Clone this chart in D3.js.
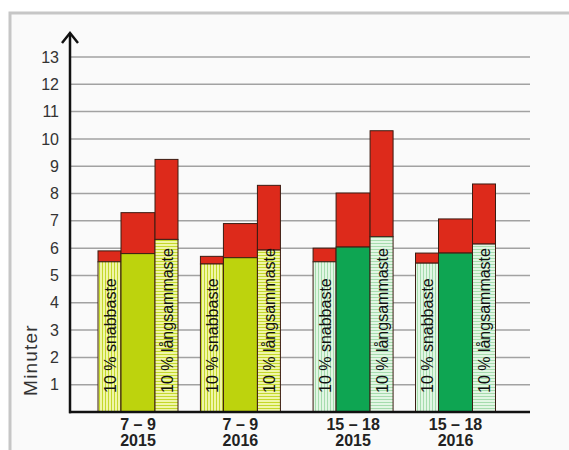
<!DOCTYPE html>
<html>
<head>
<meta charset="utf-8">
<script src="https://cdn.jsdelivr.net/npm/d3@7"></script>
<style>
  html, body { margin: 0; padding: 0; background: #ffffff; }
  svg { display: block; font-family: Arial, "Liberation Sans", sans-serif; }
</style>
</head>
<body>
<svg id="chart" width="569" height="450"></svg>
<script>
// Age group / year per column group
const periods = ["7 – 9", "7 – 9", "15 – 18", "15 – 18"];
const years = ["2015", "2016", "2015", "2016"];
const ageGroup = ["young", "young", "teen", "teen"];

// Minutes: lower (coloured) part and total height (red top) of each bar
const fastBase   = [5.5, 5.42, 5.5, 5.45];
const fastTotal  = [5.9, 5.7, 6.0, 5.82];
const medianBase = [5.8, 5.65, 6.04, 5.82];
const medianTotal= [7.3, 6.9, 8.02, 7.07];
const slowBase   = [6.32, 5.93, 6.42, 6.15];
const slowTotal  = [9.25, 8.3, 10.3, 8.35];

const yTicks = [1, 2, 3, 4, 5, 6, 7, 8, 9, 10, 11, 12, 13];
const fastLabel = "10 % snabbaste";
const slowLabel = "10 % långsammaste";
const yTitle = "Minuter";

const svg = d3.select("#chart");

// Frame
svg.append("rect").attr("x", 10).attr("y", 13).attr("width", 580).attr("height", 460)
  .attr("fill", "#fafafa").attr("stroke", "#c6c6c6").attr("stroke-width", 3);

const y = d3.scaleLinear().domain([0, 13]).range([412, 57]);
// group slots, with a wider gap between the two age groups
const slot = d3.scaleLinear().domain([0, 3.1]).range([138, 455.5]);
const slotPos = i => slot(i + (i >= 2 ? 0.1 : 0));

const narrowW = 23, wideW = 34;

// Patterns for the 10 % bars
const defs = svg.append("defs");
function stripes(id, bg, line, vertical) {
  const p = defs.append("pattern").attr("id", id).attr("patternUnits", "userSpaceOnUse")
    .attr("width", 3).attr("height", 3);
  p.append("rect").attr("width", 3).attr("height", 3).attr("fill", bg);
  if (vertical) p.append("rect").attr("x", 0).attr("width", 1).attr("height", 3).attr("fill", line);
  else p.append("rect").attr("y", 0).attr("width", 3).attr("height", 1).attr("fill", line);
}
stripes("youngV", "#f0f6a8", "#c4d82a", true);
stripes("youngH", "#f0f6a8", "#c4d82a", false);
stripes("teenV", "#e2f6e4", "#a6dcae", true);
stripes("teenH", "#e2f6e4", "#a6dcae", false);

const solid = { young: "#bdd30d", teen: "#0ea552" };
const red = "#dd2a1b";
const outline = "#3b1c12";

// Gridlines
svg.append("g").selectAll("line").data(yTicks).join("line")
  .attr("x1", 70).attr("x2", 530)
  .attr("y1", d => y(d)).attr("y2", d => y(d))
  .attr("stroke", "#a2a2a2").attr("stroke-width", 1.5);

// Y tick labels
const yAxis = d3.axisLeft(y).tickValues(yTicks).tickSize(0).tickPadding(0);
const ya = svg.append("g").attr("transform", "translate(59,0)").call(yAxis);
ya.select(".domain").remove();
ya.selectAll("text").attr("font-size", 16).attr("fill", "#333").attr("font-family", "Arial, 'Liberation Sans', sans-serif");

// Y title
svg.append("text").attr("transform", "translate(37,360) rotate(-90)")
  .attr("text-anchor", "middle").attr("font-size", 19).attr("letter-spacing", 1.2)
  .attr("fill", "#333").text(yTitle);

// Bars
const groups = d3.range(periods.length).map(i => {
  const c = slotPos(i);
  return [
    { x: c - wideW / 2 - narrowW, w: narrowW, base: fastBase[i], total: fastTotal[i],
      fill: `url(#${ageGroup[i]}V)`, label: fastLabel },
    { x: c - wideW / 2, w: wideW, base: medianBase[i], total: medianTotal[i],
      fill: solid[ageGroup[i]], label: null },
    { x: c + wideW / 2, w: narrowW, base: slowBase[i], total: slowTotal[i],
      fill: `url(#${ageGroup[i]}H)`, label: slowLabel }
  ];
}).flat();

const bars = svg.append("g").selectAll("g").data(groups).join("g");
bars.append("rect").attr("x", d => d.x).attr("width", d => d.w)
  .attr("y", d => y(d.total)).attr("height", d => y(d.base) - y(d.total))
  .attr("fill", red).attr("stroke", outline).attr("stroke-width", 1);
bars.append("rect").attr("x", d => d.x).attr("width", d => d.w)
  .attr("y", d => y(d.base)).attr("height", d => y(0) - y(d.base))
  .attr("fill", d => d.fill).attr("stroke", outline).attr("stroke-width", 1);
bars.filter(d => d.label).append("text")
  .attr("transform", d => `translate(${d.x + d.w / 2 + 6},${y(0) - 19}) rotate(-90)`)
  .attr("font-size", 16).attr("fill", "#111").text(d => d.label);

// Axes lines
svg.append("line").attr("x1", 69).attr("x2", 530).attr("y1", y(0)).attr("y2", y(0))
  .attr("stroke", "#111").attr("stroke-width", 2.5);
svg.append("line").attr("x1", 70).attr("x2", 70).attr("y1", y(0) + 1.2).attr("y2", 33)
  .attr("stroke", "#111").attr("stroke-width", 2.5);
svg.append("path").attr("d", "M62,43 L70,33 L78,43")
  .attr("fill", "none").attr("stroke", "#111").attr("stroke-width", 2.5)
  .attr("stroke-linejoin", "miter");

// Category labels
const xl = svg.append("g").selectAll("g").data(periods).join("g")
  .attr("transform", (d, i) => `translate(${slotPos(i)},0)`);
xl.append("text").attr("y", 430).attr("text-anchor", "middle")
  .attr("font-size", 16).attr("font-weight", "bold").attr("fill", "#222").text(d => d);
xl.append("text").attr("y", 446).attr("text-anchor", "middle")
  .attr("font-size", 16).attr("font-weight", "bold").attr("fill", "#222").text((d, i) => years[i]);
</script>
</body>
</html>
